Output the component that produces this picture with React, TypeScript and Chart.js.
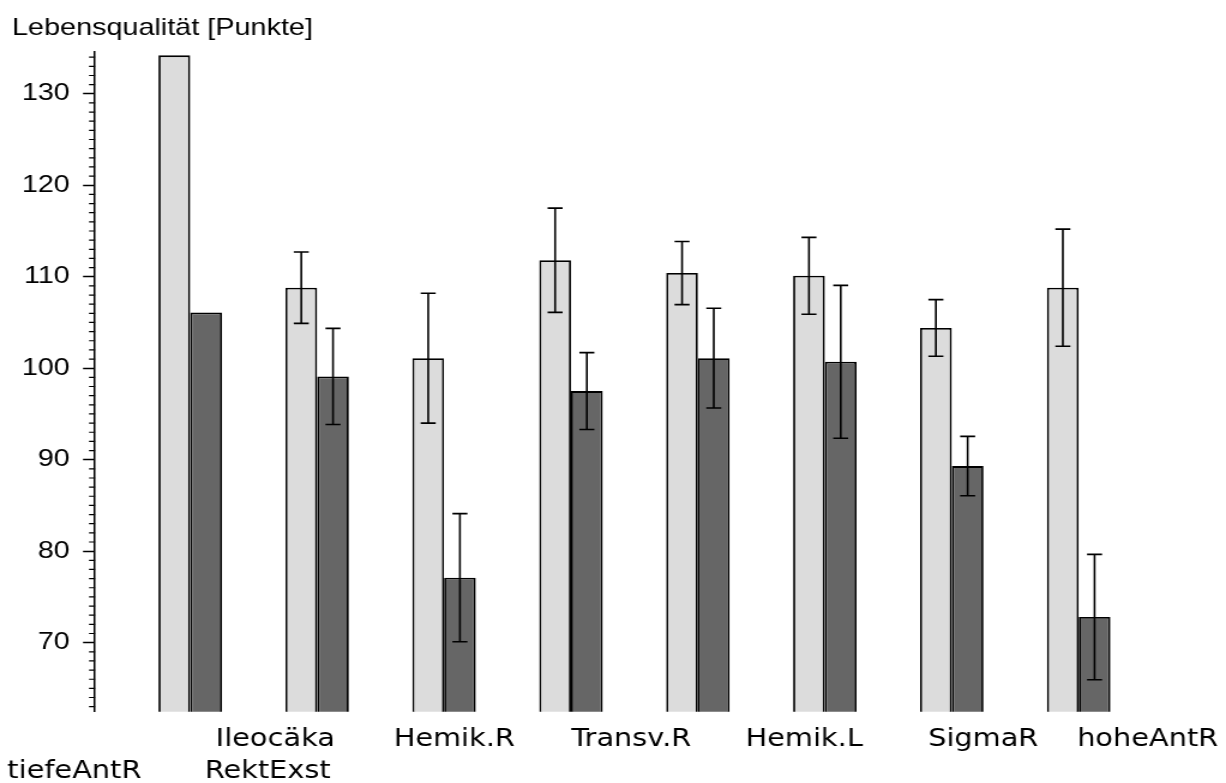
import React, { useEffect, useRef } from "react";
import { Chart, registerables } from "chart.js";

Chart.register(...registerables);

// ---- data ----
const categories = ["tiefeAntR", "RektExst", "Ileocäka", "Hemik.R", "Transv.R", "Hemik.L", "SigmaR", "hoheAntR"];
const lightMeans = [134.2, 108.8, 101.1, 111.8, 110.4, 110.1, 104.4, 108.8];
const lightSD: (number | null)[] = [null, 3.9, 7.1, 5.7, 3.45, 4.2, 3.1, 6.4];
const darkMeans = [106.1, 99.1, 77.1, 97.5, 101.1, 100.7, 89.3, 72.8];
const darkSD: (number | null)[] = [null, 5.25, 7.0, 4.2, 5.45, 8.35, 3.25, 6.85];
const yTickValues = [70, 80, 90, 100, 110, 120, 130];
const yAxisTitle = "Lebensqualität [Punkte]";

// ---- style / layout ----
const CANVAS_W = 1022;
const CANVAS_H = 783;
const LIGHT = "#dcdcdc";
const DARK = "#666666";
const Y_MIN = 62.45;
const Y_MAX = 134.6;
// label placement (horizontal offset from group centre, and row)
const labelDx = [-96.6, -41.2, -140.7, -97.3, -55.6, -17.2, 26.2, 57.5];
const labelRow = [2, 2, 1, 1, 1, 1, 1, 1];
const rowBaseline: Record<number, number> = { 1: 746, 2: 778 };

export default function App() {
  const ref = useRef<HTMLCanvasElement | null>(null);

  useEffect(() => {
    if (!ref.current) return;
    const sds = [lightSD, darkSD];

    const decor = {
      id: "decor",
      afterDatasetsDraw(chart: any) {
        const ctx = chart.ctx;
        const ys = chart.scales.y;
        ctx.save();
        ctx.strokeStyle = "#000";
        ctx.lineWidth = 1.6;
        chart.data.datasets.forEach((ds: any, di: number) => {
          const meta = chart.getDatasetMeta(di);
          meta.data.forEach((bar: any, i: number) => {
            const sd = sds[di][i];
            if (sd == null) return;
            const m = (ds.data[i] as any).y;
            const yt = ys.getPixelForValue(m + sd);
            const yb = ys.getPixelForValue(m - sd);
            const x = bar.x;
            ctx.beginPath();
            ctx.moveTo(x, yt);
            ctx.lineTo(x, yb);
            ctx.moveTo(x - 6.25, yt);
            ctx.lineTo(x + 6.25, yt);
            ctx.moveTo(x - 6.25, yb);
            ctx.lineTo(x + 6.25, yb);
            ctx.stroke();
          });
        });
        ctx.restore();
      },
      afterDraw(chart: any) {
        const ctx = chart.ctx;
        const ys = chart.scales.y;
        const xs = chart.scales.x;
        const axisX = chart.chartArea.left;
        ctx.save();
        // minor ticks
        ctx.strokeStyle = "#000";
        ctx.lineWidth = 1.2;
        ctx.beginPath();
        for (let v = Math.ceil(Y_MIN); v <= Math.floor(Y_MAX); v++) {
          if (v % 10 === 0) continue;
          const y = ys.getPixelForValue(v);
          ctx.moveTo(axisX - 5, y);
          ctx.lineTo(axisX, y);
        }
        ctx.stroke();
        // y axis title
        ctx.fillStyle = "#000";
        ctx.font = '24px "Liberation Sans", Arial, sans-serif';
        ctx.textAlign = "left";
        ctx.textBaseline = "alphabetic";
        ctx.fillText(yAxisTitle, 10, 35);
        // category labels
        ctx.font = '24px "DejaVu Sans", sans-serif';
        ctx.textAlign = "center";
        categories.forEach((c, i) => {
          const x = xs.getPixelForValue(i) + labelDx[i];
          ctx.fillText(c, x, rowBaseline[labelRow[i]]);
        });
        ctx.restore();
      },
    };

    const chart = new Chart(ref.current, {
      type: "bar",
      data: {
        datasets: [
          {
            data: lightMeans.map((v, i) => ({ x: i, y: v })),
            backgroundColor: LIGHT,
            borderColor: "#000",
            borderWidth: 1.8,
            borderSkipped: false,
          },
          {
            data: darkMeans.map((v, i) => ({ x: i, y: v })),
            backgroundColor: DARK,
            borderColor: "#000",
            borderWidth: 1.8,
            borderSkipped: false,
          },
        ],
      },
      options: {
        responsive: false,
        animation: false,
        devicePixelRatio: 1,
        categoryPercentage: 0.5,
        barPercentage: 1.0,
        layout: { padding: { left: 0, top: 51.7, right: 69.9, bottom: 71.3 } },
        plugins: { legend: { display: false }, tooltip: { enabled: false }, title: { display: false } },
        scales: {
          x: {
            type: "linear",
            display: false,
            offset: false,
            min: -0.75,
            max: 7.5,
            grid: { offset: false },
            afterBuildTicks: (s: any) => {
              s.ticks = categories.map((_, i) => ({ value: i }));
            },
          },
          y: {
            min: Y_MIN,
            max: Y_MAX,
            afterFit: (s: any) => {
              s.width = 79.2;
            },
            afterBuildTicks: (s: any) => {
              s.ticks = yTickValues.map((v) => ({ value: v }));
            },
            border: { display: true, color: "#000", width: 1.5 },
            grid: {
              drawOnChartArea: false,
              drawTicks: true,
              tickLength: 10,
              tickColor: "#000",
              tickWidth: 1.5,
            },
            ticks: {
              color: "#000",
              padding: 11,
              font: { family: '"Liberation Sans", Arial, sans-serif', size: 24 },
              callback: (v: any) => String(v),
            },
          },
        },
      } as any,
      plugins: [decor],
    });
    return () => chart.destroy();
  }, []);

  return (
    <div style={{ position: "absolute", left: 0, top: 0, width: 1226, height: 783, background: "#fff" }}>
      <canvas
        ref={ref}
        width={CANVAS_W}
        height={CANVAS_H}
        style={{ width: "1226px", height: "783px", display: "block" }}
      />
    </div>
  );
}
